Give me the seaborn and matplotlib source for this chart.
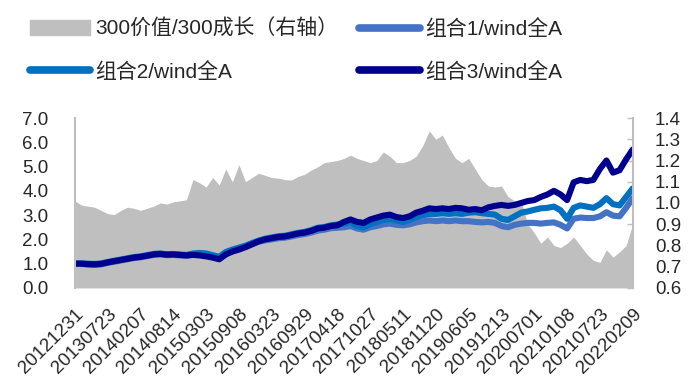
import numpy as np
import matplotlib
matplotlib.use("Agg")
import matplotlib.pyplot as plt
import matplotlib.patches as mpatches
import matplotlib.lines as mlines
import seaborn as sns

# ---------------- data ----------------
tick_labels = ["20121231", "20130723", "20140207", "20140814", "20150303", "20150908",
               "20160323", "20160929", "20170418", "20171027", "20180511", "20181120",
               "20190605", "20191213", "20200701", "20210108", "20210723", "20220209"]

# 300价值/300成长 (right axis), sampled 5 points per tick interval
value_growth = [1.01, 0.99, 0.985, 0.98, 0.965, 0.95, 0.945, 0.965, 0.98, 0.975,
                0.965, 0.975, 0.985, 1.00, 0.995, 1.005, 1.01, 1.015, 1.11, 1.095,
                1.075, 1.12, 1.085, 1.16, 1.10, 1.18, 1.10, 1.12, 1.14, 1.13,
                1.12, 1.117, 1.11, 1.108, 1.125, 1.135, 1.155, 1.17, 1.19, 1.195,
                1.20, 1.21, 1.225, 1.21, 1.20, 1.19, 1.20, 1.24, 1.22, 1.19,
                1.19, 1.20, 1.22, 1.27, 1.34, 1.30, 1.32, 1.26, 1.21, 1.19,
                1.21, 1.16, 1.11, 1.08, 1.075, 1.08, 1.03, 1.01, 1.01, 0.90,
                0.86, 0.81, 0.84, 0.80, 0.79, 0.81, 0.84, 0.80, 0.76, 0.73,
                0.72, 0.78, 0.745, 0.77, 0.80, 0.90]

combo1 = [1.00, 0.99, 0.96, 0.95, 0.97, 1.03, 1.08, 1.13, 1.18, 1.23,
          1.26, 1.31, 1.36, 1.38, 1.35, 1.36, 1.34, 1.32, 1.37, 1.38,
          1.34, 1.28, 1.20, 1.40, 1.52, 1.60, 1.69, 1.80, 1.90, 1.96,
          2.00, 2.05, 2.07, 2.12, 2.18, 2.22, 2.28, 2.36, 2.40, 2.46,
          2.48, 2.50, 2.55, 2.45, 2.40, 2.50, 2.55, 2.62, 2.65, 2.60,
          2.58, 2.62, 2.70, 2.75, 2.78, 2.75, 2.78, 2.75, 2.78, 2.75,
          2.75, 2.72, 2.70, 2.72, 2.68, 2.55, 2.50, 2.60, 2.65, 2.68,
          2.68, 2.65, 2.68, 2.70, 2.60, 2.45, 2.85, 2.90, 2.88, 2.88,
          2.95, 3.12, 2.98, 2.95, 3.30, 3.70]

combo2 = [1.00, 1.01, 1.00, 0.99, 1.01, 1.07, 1.12, 1.17, 1.22, 1.27,
          1.30, 1.35, 1.40, 1.42, 1.39, 1.40, 1.38, 1.36, 1.42, 1.44,
          1.42, 1.35, 1.28, 1.48, 1.58, 1.66, 1.74, 1.85, 1.95, 2.03,
          2.08, 2.13, 2.15, 2.21, 2.27, 2.31, 2.38, 2.48, 2.51, 2.58,
          2.61, 2.65, 2.72, 2.55, 2.50, 2.62, 2.72, 2.80, 2.85, 2.78,
          2.72, 2.80, 2.92, 3.00, 3.05, 3.05, 3.08, 3.05, 3.08, 3.05,
          3.10, 3.12, 3.08, 3.05, 3.02, 2.85, 2.80, 2.95, 3.10, 3.15,
          3.22, 3.28, 3.30, 3.35, 3.20, 2.85, 3.30, 3.40, 3.35, 3.30,
          3.45, 3.70, 3.45, 3.40, 3.75, 4.10]

combo3 = [1.00, 1.00, 0.98, 0.97, 0.99, 1.05, 1.10, 1.15, 1.20, 1.25,
          1.28, 1.33, 1.38, 1.40, 1.37, 1.38, 1.36, 1.34, 1.36, 1.34,
          1.30, 1.25, 1.18, 1.38, 1.50, 1.58, 1.68, 1.80, 1.92, 2.00,
          2.05, 2.10, 2.12, 2.18, 2.24, 2.28, 2.35, 2.45, 2.48, 2.55,
          2.58, 2.72, 2.82, 2.72, 2.68, 2.82, 2.90, 2.98, 3.02, 2.92,
          2.88, 2.95, 3.10, 3.18, 3.28, 3.25, 3.28, 3.25, 3.30, 3.28,
          3.22, 3.25, 3.20, 3.32, 3.38, 3.42, 3.38, 3.42, 3.50, 3.58,
          3.62, 3.75, 3.85, 4.00, 3.85, 3.62, 4.35, 4.45, 4.40, 4.45,
          4.90, 5.25, 4.75, 4.85, 5.30, 5.70]

left_ticks = [0.0, 1.0, 2.0, 3.0, 4.0, 5.0, 6.0, 7.0]
right_ticks = [0.6, 0.7, 0.8, 0.9, 1.0, 1.1, 1.2, 1.3, 1.4]

samples_per_tick = 5
names = ["300价值/300成长（右轴）", "组合1/wind全A", "组合2/wind全A", "组合3/wind全A"]
colors = {"gray": "#BFBFBF", "c1": "#4472C4", "c2": "#0070C0", "c3": "#00008F"}

# ---------------- style ----------------
sns.set_theme(style="white")
plt.rcParams["font.family"] = ["Liberation Sans", "Noto Sans CJK SC", "DejaVu Sans"]
text_color = "#262626"

fig = plt.figure(figsize=(6.93, 3.87), dpi=100)
ax = fig.add_axes([0.108, 0.256, 0.805, 0.439])
ax2 = ax.twinx()

x = np.arange(len(value_growth))

# area on the primary axes (right-hand scale)
ax.fill_between(x, right_ticks[0], value_growth, color=colors["gray"], lw=0, zorder=1)
ax.set_ylim(right_ticks[0], right_ticks[-1])
ax.set_xlim(x[0], x[-1])
ax.set_yticks(right_ticks)
ax.set_yticklabels([f"{v:.1f}" for v in right_ticks])
ax.tick_params(axis="y", left=False, labelleft=False, right=True, labelright=True,
               direction="in", length=4, width=1, color=colors["gray"],
               pad=16, labelsize=13.5, labelcolor=text_color)

tick_pos = np.arange(len(tick_labels)) * samples_per_tick
ax.set_xticks(tick_pos)
ax.set_xticklabels(tick_labels, rotation=45, ha="right", rotation_mode="anchor",
                   fontsize=13.5, color=text_color)
ax.tick_params(axis="x", length=0, pad=13, bottom=True, labelbottom=True)

# lines on the twin axes (left-hand scale)
for key, arr in [("c1", combo1), ("c2", combo2), ("c3", combo3)]:
    sns.lineplot(x=x, y=arr, ax=ax2, color=colors[key], linewidth=4.4,
                 solid_capstyle="round", solid_joinstyle="round", legend=False)
ax2.set_ylim(left_ticks[0], left_ticks[-1])
ax2.set_xlim(x[0], x[-1])
ax2.set_yticks(left_ticks)
ax2.set_yticklabels([f"{v:.1f}" for v in left_ticks])
ax2.tick_params(axis="y", left=False, labelleft=True, right=False, labelright=False,
                length=0, pad=19, labelsize=13.5, labelcolor=text_color)
ax2.set_ylabel("")
ax2.set_xlabel("")

for a in (ax, ax2):
    for s in a.spines.values():
        s.set_visible(False)
    a.grid(False)
for side in ("left", "right"):
    ax2.spines[side].set_visible(True)
    ax2.spines[side].set_color(colors["gray"])
    ax2.spines[side].set_linewidth(1.5)

# ---------------- legend ----------------
h_gray = mpatches.Patch(color=colors["gray"], label=names[0])
h1 = mlines.Line2D([], [], color=colors["c1"], lw=5.5, solid_capstyle="round", label=names[1])
h2 = mlines.Line2D([], [], color=colors["c2"], lw=5.5, solid_capstyle="round", label=names[2])
h3 = mlines.Line2D([], [], color=colors["c3"], lw=5.5, solid_capstyle="round", label=names[3])
fig.legend(handles=[h_gray, h2, h1, h3], loc="upper left", bbox_to_anchor=(0.016, 1.0),
           ncol=2, frameon=False, fontsize=15, handlelength=2.9, handletextpad=0.25,
           labelspacing=1.1, columnspacing=1.0, labelcolor=text_color)

fig.savefig("out.png", dpi=100)
